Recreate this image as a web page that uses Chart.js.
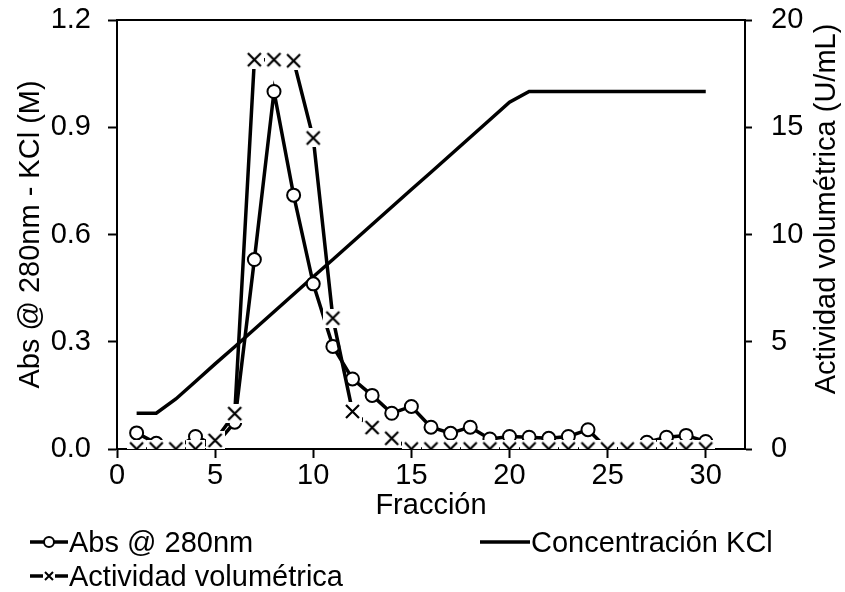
<!DOCTYPE html>
<html>
<head>
<meta charset="utf-8">
<script src="https://cdn.jsdelivr.net/npm/chart.js@4/dist/chart.umd.min.js"></script>
<style>
  html, body { margin: 0; padding: 0; background: #fff; }
  #wrap { position: relative; width: 845px; height: 592px; }
  #legend { position: absolute; left: 30px; top: 525px; display: grid;
            grid-template-columns: 450px 380px; grid-auto-rows: 34px;
            font-family: "Liberation Sans", Arial, sans-serif; font-size: 29px; color: #000; }
  .item { display: flex; align-items: center; white-space: nowrap; }
  .item svg { margin-right: 1px; }
</style>
</head>
<body>
<div id="wrap">
  <canvas id="chart" width="845" height="592"></canvas>
  <div id="legend"></div>
</div>
<script>
// data
const fracciones = [1,2,3,4,5,6,7,8,9,10,11,12,13,14,15,16,17,18,19,20,21,22,23,24,25,26,27,28,29,30];
const abs280 = [0.045,0.016,0.003,0.035,0.01,0.075,0.53,1.0,0.71,0.462,0.287,0.196,0.15,0.1,0.119,0.061,0.044,0.061,0.028,0.035,0.033,0.03,0.035,0.054,0.0,0.0,0.019,0.033,0.038,0.021];
const kcl = [0.1,0.1,0.14,0.189,0.238,0.286,0.335,0.384,0.433,0.482,0.53,0.579,0.628,0.677,0.726,0.774,0.823,0.872,0.921,0.97,1,1,1,1,1,1,1,1,1,1];
const actividad = [0,0,0,0,0.4,1.65,18.15,18.15,18.1,14.5,6.1,1.75,1.0,0.5,0,0,0,0,0,0,0,0,0,0,0,0,0,0,0,0];
const xTicks = [0,5,10,15,20,25,30];
const leftTicks = [0,0.3,0.6,0.9,1.2];
const rightTicks = [0,5,10,15,20];
const rightTitle = 'Actividad volumétrica (U/mL)';

const FONT = "'Liberation Sans', Arial, sans-serif";
const FS = 29;

// x marker with a white box behind it, like the excel one
function crossMarker(size){
  const c = document.createElement('canvas');
  c.width = size; c.height = size;
  const g = c.getContext('2d');
  g.fillStyle = '#fff';
  g.fillRect(0,0,size,size);
  g.strokeStyle = '#000';
  g.lineWidth = 2.2;
  g.beginPath();
  g.moveTo(3,3); g.lineTo(size-3,size-3);
  g.moveTo(size-3,3); g.lineTo(3,size-3);
  g.stroke();
  return c;
}

const pts = (ys) => fracciones.map((x,i)=>({x:x, y:ys[i]}));

const datasets = [
  {
    label: 'Abs @ 280nm', data: pts(abs280), yAxisID: 'y',
    borderColor: '#000', borderWidth: 3.5,
    pointStyle: 'circle', pointRadius: 6.5, pointBorderWidth: 2,
    pointBackgroundColor: '#fff', pointBorderColor: '#000',
    order: 1, marker: 'circle'
  },
  {
    label: 'Concentración KCl', data: pts(kcl), yAxisID: 'y',
    borderColor: '#000', borderWidth: 3.5, pointRadius: 0,
    order: 2, marker: 'none'
  },
  {
    label: 'Actividad volumétrica', data: pts(actividad), yAxisID: 'y2',
    borderColor: '#000', borderWidth: 3.5,
    pointStyle: crossMarker(19), pointRadius: 9,
    order: 0, marker: 'cross'
  }
];

function onlyTicks(list){
  return function(scale){
    scale.ticks = list.map(v=>({value:v}));
  };
}
// fixed width, and no extra room for the end labels
function fixWidth(w){
  return function(s){
    s.width = w;
    s.paddingTop = 0;
    s.paddingBottom = 0;
  };
}

// top edge of the plot box + right title read bottom-to-top like excel
const extras = {
  id: 'extras',
  beforeDatasetsDraw(chart){
    const {ctx, chartArea} = chart;
    ctx.save();
    ctx.strokeStyle = '#000';
    ctx.lineWidth = 2;
    ctx.beginPath();
    ctx.moveTo(chartArea.left, chartArea.top);
    ctx.lineTo(chartArea.right, chartArea.top);
    ctx.stroke();
    ctx.restore();
  },
  afterDraw(chart){
    const {ctx} = chart;
    const sc = chart.scales.y2;
    ctx.save();
    ctx.translate(sc.right - 18, 209);
    ctx.rotate(-Math.PI/2);
    ctx.font = FS + 'px ' + FONT;
    ctx.fillStyle = '#000';
    ctx.textAlign = 'center';
    ctx.textBaseline = 'middle';
    ctx.fillText(rightTitle, 0, 0);
    ctx.restore();
  }
};

const chart = new Chart(document.getElementById('chart'), {
  type: 'line',
  data: { datasets: datasets },
  plugins: [extras],
  options: {
    responsive: false,
    animation: false,
    layout: { padding: { top: 20, bottom: 0, left: 0, right: 0 } },
    plugins: { legend: { display: false }, tooltip: { enabled: false } },
    scales: {
      x: {
        type: 'linear', position: 'bottom', min: 0, max: 32,
        afterBuildTicks: onlyTicks(xTicks),
        afterFit: (s)=>{ s.height = 592 - 449; s.paddingLeft = 0; s.paddingRight = 0; },
        grid: { drawOnChartArea: false, drawTicks: true, tickLength: 9, color: '#000', tickWidth: 2 },
        border: { display: true, color: '#000', width: 2 },
        ticks: { color: '#000', font: { family: FONT, size: FS }, padding: 1, maxRotation: 0 },
        title: { display: true, text: 'Fracción', color: '#000', font: { family: FONT, size: FS },
                 padding: { top: 0, bottom: 69 } }
      },
      y: {
        type: 'linear', position: 'left', min: 0, max: 1.2,
        afterBuildTicks: onlyTicks(leftTicks),
        afterFit: fixWidth(117),
        grid: { drawOnChartArea: false, drawTicks: true, tickLength: 9, color: '#000', tickWidth: 2 },
        border: { display: true, color: '#000', width: 2 },
        ticks: { color: '#000', font: { family: FONT, size: FS }, padding: 17,
                 callback: (v)=>Number(v).toFixed(1) },
        title: { display: true, text: 'Abs @ 280nm - KCl (M)', color: '#000', font: { family: FONT, size: FS },
                 padding: { top: 14, bottom: 0 } }
      },
      y2: {
        type: 'linear', position: 'right', min: 0, max: 20,
        afterBuildTicks: onlyTicks(rightTicks),
        afterFit: fixWidth(100),
        grid: { drawOnChartArea: false, drawTicks: true, tickLength: 7, color: '#000', tickWidth: 2 },
        border: { display: true, color: '#000', width: 2 },
        ticks: { color: '#000', font: { family: FONT, size: FS }, padding: 19 },
        title: { display: false }
      }
    }
  }
});

// legend laid out like the excel one (two columns)
function legendIcon(marker){
  const w = marker === 'none' ? 50 : 38;
  let s = '<svg width="'+w+'" height="20"><line x1="0" y1="10" x2="'+w+'" y2="10" stroke="#000" stroke-width="3.5"/>';
  if (marker === 'circle') s += '<circle cx="19" cy="10" r="5" fill="#fff" stroke="#000" stroke-width="2"/>';
  if (marker === 'cross') s += '<rect x="13" y="4" width="12" height="12" fill="#fff"/>' +
    '<path d="M15 6 L23 14 M23 6 L15 14" stroke="#000" stroke-width="2"/>';
  return s + '</svg>';
}
const legend = document.getElementById('legend');
datasets.forEach((ds, i)=>{
  const div = document.createElement('div');
  div.className = 'item';
  div.innerHTML = legendIcon(ds.marker) + '<span>' + ds.label + '</span>';
  if (i === 1) { div.style.gridColumn = '2'; div.style.gridRow = '1'; }
  if (i === 2) { div.style.gridColumn = '1'; div.style.gridRow = '2'; }
  legend.appendChild(div);
});
</script>
</body>
</html>
